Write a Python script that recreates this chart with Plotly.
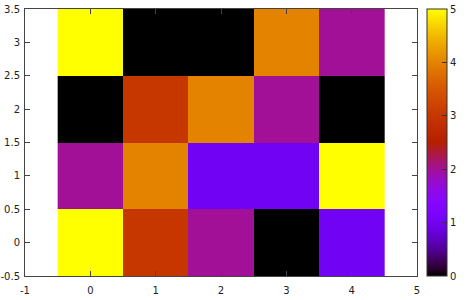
import numpy as np
import plotly.graph_objects as go

x_vals = [0, 1, 2, 3, 4]
y_vals = [0, 1, 2, 3]
z_row0 = [5, 3, 2, 0, 1]
z_row1 = [2, 4, 1, 1, 5]
z_row2 = [0, 3, 4, 2, 0]
z_row3 = [5, 0, 0, 4, 2]
z = [z_row0, z_row1, z_row2, z_row3]

x_ticks = [-1, 0, 1, 2, 3, 4, 5]
x_tick_labels = ["-1", "0", "1", "2", "3", "4", "5"]
y_ticks = [-0.5, 0, 0.5, 1, 1.5, 2, 2.5, 3, 3.5]
y_tick_labels = ["-0.5", "0", "0.5", "1", "1.5", "2", "2.5", "3", "3.5"]
cb_ticks = [0, 1, 2, 3, 4, 5]

# gnuplot default palette (rgbformulae 7,5,15)
stops = []
for t in np.linspace(0, 1, 41):
    r = np.sqrt(t)
    g = t ** 3
    b = max(0.0, np.sin(2 * np.pi * t))
    stops.append([float(t), f"rgb({int(round(r*255))},{int(round(g*255))},{int(round(b*255))})"])

font = dict(family="DejaVu Sans", size=10, color="#222")

fig = go.Figure(go.Heatmap(
    x=x_vals, y=y_vals, z=z, zmin=0, zmax=5, colorscale=stops,
    colorbar=dict(
        x=1.0255, xanchor="left", y=0, yanchor="bottom", len=1, lenmode="fraction",
        thickness=20, thicknessmode="pixels", outlinewidth=1, outlinecolor="#333",
        ticks="inside", ticklen=5, tickcolor="#333", tickvals=cb_ticks,
        tickfont=font, xpad=0, ypad=0,
    ),
))

axis_common = dict(showgrid=False, zeroline=False, showline=True, linecolor="#444",
                   linewidth=1, ticks="inside", ticklen=5, tickcolor="#444",
                   mirror="ticks", tickfont=font, automargin=False)
fig.update_layout(
    width=474, height=300,
    margin=dict(l=25, r=57, t=9, b=24),
    plot_bgcolor="white", paper_bgcolor="white",
    xaxis=dict(range=[-1, 5], tickvals=x_ticks, ticktext=x_tick_labels,
               ticklabelstandoff=5, **axis_common),
    yaxis=dict(range=[-0.5, 3.5], tickvals=y_ticks, ticktext=y_tick_labels,
               ticklabelstandoff=2, **axis_common),
)
fig.write_html("out.html")
